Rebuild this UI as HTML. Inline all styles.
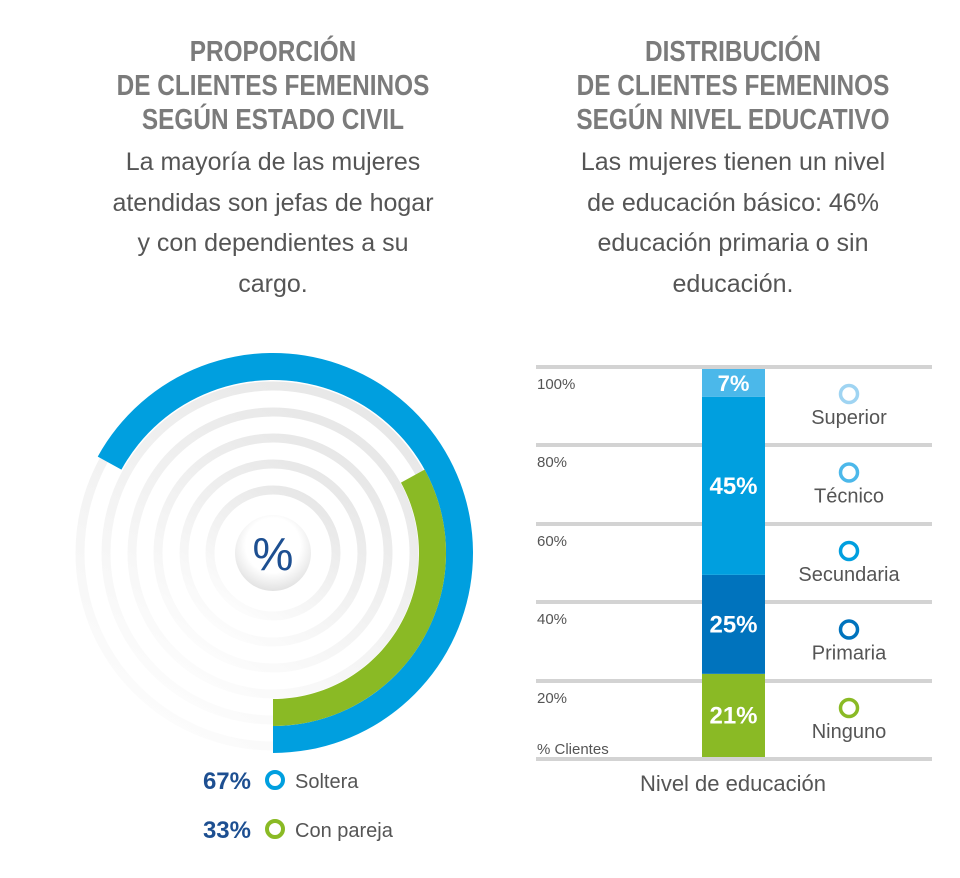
<!DOCTYPE html>
<html><head><meta charset="utf-8"><style>
body{margin:0;width:960px;height:878px;background:#fff;font-family:"Liberation Sans",sans-serif;overflow:hidden;position:relative}
.t{position:absolute;text-align:center;color:#7b7b7b;font-weight:bold;font-size:29px;line-height:34px;transform:scaleX(0.84);transform-origin:center}
.s{position:absolute;text-align:center;color:#555;font-size:25px;line-height:40.5px}
</style></head><body>
<div class="t" style="left:73px;top:35px;width:400px">PROPORCIÓN<br>DE CLIENTES FEMENINOS<br>SEGÚN ESTADO CIVIL</div>
<div class="s" style="left:73px;top:142px;width:400px">La mayoría de las mujeres<br>atendidas son jefas de hogar<br>y con dependientes a su<br>cargo.</div>
<div class="t" style="left:533px;top:35px;width:400px">DISTRIBUCIÓN<br>DE CLIENTES FEMENINOS<br>SEGÚN NIVEL EDUCATIVO</div>
<div class="s" style="left:533px;top:142px;width:400px">Las mujeres tienen un nivel<br>de educación básico: 46%<br>educación primaria o sin<br>educación.</div>

<svg id="donut" width="960" height="878" style="position:absolute;left:0;top:0">
<defs>
<linearGradient id="fade" x1="0.8" y1="0" x2="0.2" y2="1"><stop offset="0" stop-color="#e6e6e6"/><stop offset="1" stop-color="#fdfdfd"/></linearGradient>
<radialGradient id="ctr" cx="0.5" cy="0.4" r="0.6"><stop offset="0.6" stop-color="#fff"/><stop offset="1" stop-color="#e2e2e2"/></radialGradient>
</defs>
<g id="rings"></g>
<g id="arcs"></g>
<circle cx="273" cy="553" r="38" fill="url(#ctr)"/>
<text x="273" y="570" text-anchor="middle" font-size="46" fill="#1d4f91" font-family="Liberation Sans, sans-serif">%</text>
<text x="251" y="789" text-anchor="end" font-size="24" font-weight="bold" fill="#1d4f91">67%</text>
<circle cx="275" cy="780" r="8" fill="none" stroke="#009fdf" stroke-width="4"/>
<text x="295" y="788" font-size="20" fill="#555">Soltera</text>
<text x="251" y="838" text-anchor="end" font-size="24" font-weight="bold" fill="#1d4f91">33%</text>
<circle cx="275" cy="829" r="8" fill="none" stroke="#8aba25" stroke-width="4"/>
<text x="295" y="837" font-size="20" fill="#555">Con pareja</text>
</svg>

<svg id="bar" width="960" height="878" style="position:absolute;left:0;top:0">
<g id="grid"></g><g id="segs"></g><g id="legend"></g>
<text x="537" y="754" font-size="15" fill="#555">% Clientes</text>
<text x="733" y="791" text-anchor="middle" font-size="22" fill="#555">Nivel de educación</text>
</svg>
<script>
const donutLabels=["Soltera","Con pareja"];
const donutValues=[67,33];
const donutColors=["#009fdf","#8aba25"];
const barCategories=["Ninguno","Primaria","Secundaria","Superior"];
const barValues=[21,25,45,7];
const barColors=["#8aba25","#0073bd","#009fdf","#4bb8ea"];
const legendCategories=["Superior","Técnico","Secundaria","Primaria","Ninguno"];
const legendColors=["#9fd4f2","#4cb8ea","#009fdf","#0073bd","#8aba25"];
const yTicks=["100%","80%","60%","40%","20%"];
const NS="http://www.w3.org/2000/svg";
function mk(t,a,p){const e=document.createElementNS(NS,t);for(const k in a)e.setAttribute(k,a[k]);p.appendChild(e);return e;}
const cx=273,cy=553;
const rings=document.getElementById('rings');
[193,167,141,115,89,63].forEach(r=>{const c=mk('circle',{cx:cx,cy:cy,r:r,fill:'none',stroke:'url(#fade)','stroke-width':9},rings);

});
function pt(r,deg){const a=deg*Math.PI/180;return [cx+r*Math.sin(a),cy-r*Math.cos(a)];}
function arcPath(ro,ri,pct){const span=pct/100*360;const s=180,e=180-span;
const a=pt(ro,s),b=pt(ro,e),c=pt(ri,e),d=pt(ri,s);const lg=span>180?1:0;
return `M${a[0]},${a[1]} A${ro},${ro} 0 ${lg} 0 ${b[0]},${b[1]} L${c[0]},${c[1]} A${ri},${ri} 0 ${lg} 1 ${d[0]},${d[1]} Z`;}
const arcs=document.getElementById('arcs');
const radii=[[200,173],[173,146]];
donutValues.forEach((v,i)=>{const p=mk('path',{d:arcPath(radii[i][0],radii[i][1],v),fill:donutColors[i]},arcs);

});
const grid=document.getElementById('grid');
const gy=[367,445,524,602,681,759];
gy.forEach((y,i)=>{const l=mk('rect',{x:536,y:y-2,width:396,height:4,fill:'#d3d3d3'},grid);


if(i<5){const t=mk('text',{x:537,y:y+22,'font-size':15,fill:'#555'},grid);t.textContent=yTicks[i];

}});
const barBase=757,barTop=369,barTotal=barValues.reduce((a,b)=>a+b,0),kScale=(barBase-barTop)/barTotal;
const segs=document.getElementById('segs');let acc=0;
barValues.forEach((v,i)=>{const yb=barBase-acc*kScale,h=v*kScale;acc+=v;
const r=mk('rect',{x:702,y:yb-h,width:63,height:h,fill:barColors[i]},segs);


const t=mk('text',{x:733.5,y:yb-h/2+8,'text-anchor':'middle','font-size':h<40?22:24,'font-weight':'bold',fill:'#fff'},segs);t.textContent=v+'%';

});
const lg=document.getElementById('legend');
legendCategories.forEach((c,i)=>{const y=394+i*78.5;
const ci=mk('circle',{cx:849,cy:y,r:8.5,fill:'none',stroke:legendColors[i],'stroke-width':3.5},lg);


const t=mk('text',{x:849,y:y+30,'text-anchor':'middle','font-size':20,fill:'#555'},lg);t.textContent=c;

});
</script>
</body></html>
